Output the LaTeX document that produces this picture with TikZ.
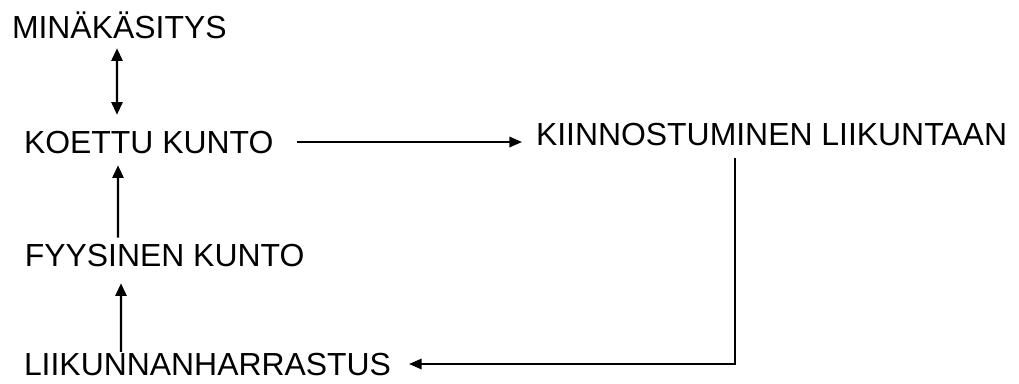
\documentclass[tikz,border=0pt]{standalone}
\usepackage{fontspec}
\setmainfont{Liberation Sans}
\usetikzlibrary{arrows.meta}

\begin{document}
\begin{tikzpicture}[
    lbl/.style={inner sep=0pt, outer sep=0pt, anchor=base west,
                font=\fontsize{22.7}{27}\selectfont},
    arr/.style={-{Triangle[length=9pt, width=8pt]}, line width=1.5pt},
    dbl/.style={{Triangle[length=9pt, width=8pt]}-{Triangle[length=9pt, width=8pt]}, line width=1.5pt},
    thin arr/.style={-{Triangle[length=9pt, width=7.5pt]}, line width=1.1pt}
  ]
    \useasboundingbox (0,0) rectangle (25.475,9.575);

    \node[lbl] (mina)   at (0.3,8.6)    {MINÄKÄSITYS};
    \node[lbl] (koettu) at (0.6,5.75)   {KOETTU KUNTO};
    \node[lbl] (kiinn)  at (13.4,5.925) {KIINNOSTUMINEN LIIKUNTAAN};
    \node[lbl] (fyys)   at (0.62,2.925) {FYYSINEN KUNTO};
    \node[lbl] (liik)   at (0.6,0.2)    {LIIKUNNANHARRASTUS};

    \draw[dbl] ([xshift=2.625cm, yshift=-0.225cm]mina.south west)
            -- ([xshift=2.325cm, yshift=0.4cm]koettu.north west);
    \draw[arr] ([xshift=2.33cm, yshift=0.15cm]fyys.north west)
            -- ([xshift=2.35cm, yshift=-0.3cm]koettu.south west);
    \draw[arr] ([xshift=2.425cm, yshift=0.02cm]liik.north west)
            -- ([xshift=2.405cm, yshift=-0.425cm]fyys.south west);
    \draw[thin arr] ([xshift=0.6cm]koettu.east)
            -- ([xshift=-0.35cm]kiinn.west |- koettu.east);
    \draw[thin arr] ([xshift=4.97cm, yshift=-0.3cm]kiinn.south west)
            |- ([xshift=0.45cm]liik.east);
\end{tikzpicture}
\end{document}
